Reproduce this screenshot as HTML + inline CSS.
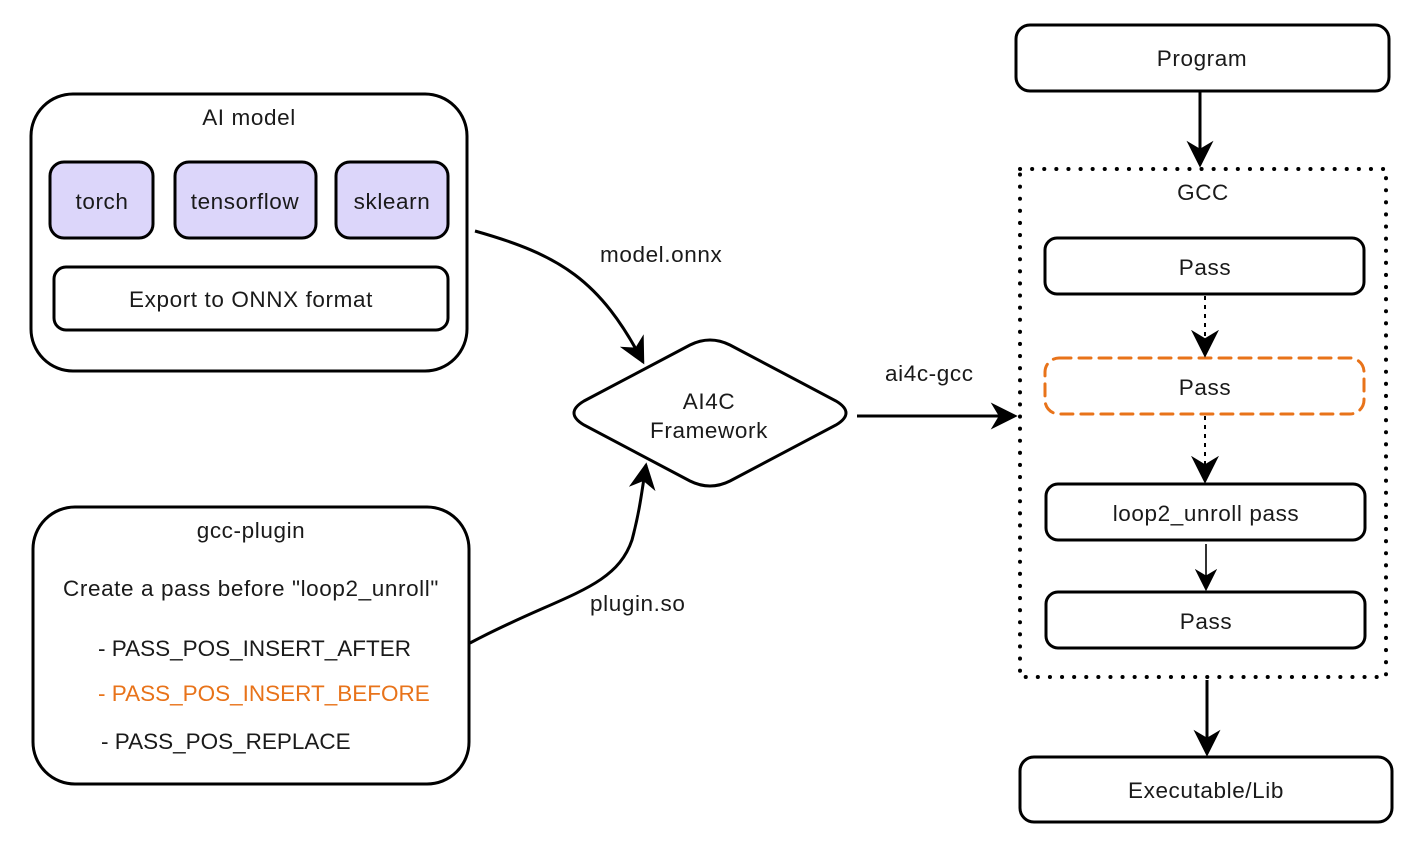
<!DOCTYPE html>
<html><head><meta charset="utf-8"><style>
html,body{margin:0;padding:0;background:#fff;}
svg{display:block;}
text{font-family:"Liberation Sans","Noto Sans CJK SC",sans-serif;font-size:22.5px;letter-spacing:0.6px;fill:#1a1a1a;}
text.caps{letter-spacing:0;}
</style></head><body>
<svg width="1426" height="847" viewBox="0 0 1426 847" xmlns="http://www.w3.org/2000/svg">
<defs>
<marker id="ah" viewBox="0 0 20 20" refX="18" refY="10" markerWidth="9" markerHeight="9" orient="auto" markerUnits="strokeWidth">
<path d="M0,0 L20,10 L0,20 L6,10 Z" fill="#000"/>
</marker>
<marker id="ah2" viewBox="0 0 20 20" refX="18" refY="10" markerWidth="14" markerHeight="14" orient="auto" markerUnits="strokeWidth">
<path d="M0,0 L20,10 L0,20 L6,10 Z" fill="#000"/>
</marker>
</defs>
<g fill="none" stroke="#000" stroke-width="3">
<rect x="31" y="94" width="436" height="277" rx="42"/>
<rect x="50" y="162" width="103" height="76" rx="14" fill="#dcd6fa"/>
<rect x="175" y="162" width="141" height="76" rx="14" fill="#dcd6fa"/>
<rect x="336" y="162" width="112" height="76" rx="14" fill="#dcd6fa"/>
<rect x="54" y="267" width="394" height="63" rx="12"/>
<rect x="33" y="507" width="436" height="277" rx="42"/>
<path d="M584,401 L690,345 Q710,335 730,345 L836,401 Q856,413 836,425 L730,481 Q710,491 690,481 L584,425 Q564,413 584,401 Z"/>
<rect x="1016" y="25" width="373" height="66" rx="14"/>
<rect x="1020" y="757" width="372" height="65" rx="14"/>
<rect x="1045" y="238" width="319" height="56" rx="12"/>
<rect x="1046" y="484" width="319" height="56" rx="12"/>
<rect x="1046" y="592" width="319" height="56" rx="12"/>
</g>
<rect x="1020" y="169" width="366" height="508" fill="none" stroke="#000" stroke-width="4" stroke-dasharray="0.1 12" stroke-linecap="round"/>
<rect x="1045" y="358" width="319" height="56" rx="14" fill="none" stroke="#e8731a" stroke-width="3" stroke-dasharray="12 8" stroke-linecap="round"/>
<g fill="none" stroke="#000">
<path d="M475,231 C560,255 600,280 643,362" stroke-width="3" marker-end="url(#ah)"/>
<path d="M470,643 C560,595 615,590 632,540 C640,510 642,490 646,465" stroke-width="3" marker-end="url(#ah)"/>
<path d="M857,416 L1015,416" stroke-width="3" marker-end="url(#ah)"/>
<path d="M1200,91 L1200,165" stroke-width="3" marker-end="url(#ah)"/>
<path d="M1207,680 L1207,754" stroke-width="3" marker-end="url(#ah)"/>
<path d="M1205,296 L1205,355" stroke-width="2" stroke-dasharray="4 5" marker-end="url(#ah2)"/>
<path d="M1205,416 L1205,481" stroke-width="2" stroke-dasharray="4 5" marker-end="url(#ah2)"/>
<path d="M1206,544 L1206,589" stroke-width="1.6" marker-end="url(#ah2)"/>
</g>
<g text-anchor="middle">
<text x="249" y="125">AI model</text>
<text x="102" y="209">torch</text>
<text x="245" y="209">tensorflow</text>
<text x="392" y="209">sklearn</text>
<text x="251" y="307">Export to ONNX format</text>
<text x="251" y="538">gcc-plugin</text>
<text x="251" y="596">Create a pass before "loop2_unroll"</text>
<text x="709" y="409">AI4C</text>
<text x="709" y="438">Framework</text>
<text x="1202" y="66">Program</text>
<text x="1203" y="200">GCC</text>
<text x="1205" y="275">Pass</text>
<text x="1205" y="395">Pass</text>
<text x="1206" y="521">loop2_unroll pass</text>
<text x="1206" y="629">Pass</text>
<text x="1206" y="798">Executable/Lib</text>
</g>
<text class="caps" x="98" y="656">- PASS_POS_INSERT_AFTER</text>
<text class="caps" x="98" y="701" style="fill:#e8731a">- PASS_POS_INSERT_BEFORE</text>
<text class="caps" x="101" y="749">- PASS_POS_REPLACE</text>
<text x="600" y="262">model.onnx</text>
<text x="590" y="611">plugin.so</text>
<text x="885" y="381">ai4c-gcc</text>
</svg>
</body></html>
